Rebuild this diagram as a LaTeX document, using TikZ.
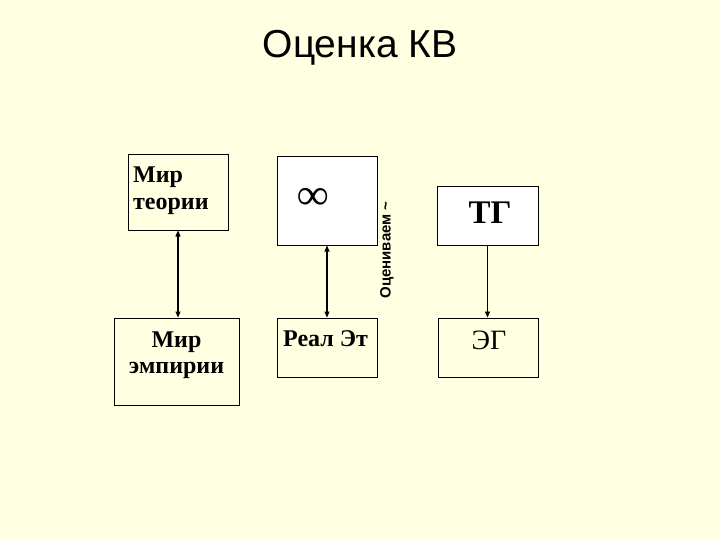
\documentclass[tikz,border=0pt]{standalone}
\usepackage{fontspec}
\setmainfont{Liberation Serif}
\setsansfont{Liberation Sans}
\usetikzlibrary{arrows.meta}
\definecolor{bg}{RGB}{255,255,225}
\tikzset{
  box/.style={draw=black, line width=0.9pt, inner sep=0pt, outer sep=0pt, anchor=north west},
  lbl/.style={inner sep=0pt, font=\fontsize{24}{26}\selectfont\bfseries},
  conn/.style={line width=1.1pt, shorten <=0.5pt, shorten >=0.5pt},
  tip/.style={-{Triangle[length=6pt,width=5pt]}},
  tips/.style={{Triangle[length=6pt,width=5pt]}-{Triangle[length=6pt,width=5pt]}}
}
\begin{document}
\begin{tikzpicture}[x=1pt,y=-1pt]
\fill[bg] (0,0) rectangle (720,540);
\useasboundingbox (0,0) rectangle (720,540);
% title
\node[inner sep=0pt, font=\sffamily\fontsize{39}{42}\selectfont] (title) at (360,48) {Оценка КВ};
% boxes
\node[box, fill=bg, minimum width=100pt, minimum height=76pt] (b1) at (128,154) {};
\node[box, fill=white, minimum width=100pt, minimum height=89pt] (b2) at (277,156) {};
\node[box, fill=white, minimum width=101pt, minimum height=59pt] (b3) at (437,186) {};
\node[box, fill=bg, minimum width=125pt, minimum height=87pt] (b4) at (114,318) {};
\node[box, fill=bg, minimum width=100pt, minimum height=59pt] (b5) at (277,318) {};
\node[box, fill=bg, minimum width=100pt, minimum height=59pt] (b6) at (438,318) {};
% texts
\node[lbl, anchor=base west] (t1a) at (133,183) {Мир};
\node[lbl, anchor=base west] (t1b) at (133,210) {теории};
\node[lbl, anchor=base] (t4a) at (176.5,347) {Мир};
\node[lbl, anchor=base] (t4b) at (176.5,373) {эмпирии};
\node[lbl, anchor=base west] (t5) at (283,346) {Реал Эт};
\node[inner sep=0pt, anchor=base, font=\fontsize{33}{34}\selectfont\bfseries] (t3) at (490,223) {ТГ};
\node[inner sep=0pt, anchor=base, font=\fontsize{28}{30}\selectfont] (t6) at (489,349) {ЭГ};
\node[inner sep=0pt, font=\fontsize{44}{44}\selectfont\bfseries] (inf) at (313,199) {∞};
\node[inner sep=0pt, rotate=90, font=\sffamily\bfseries\fontsize{15}{17}\selectfont] (rot) at (387,250) {Оцениваем \textasciitilde};
% connectors
\draw[conn, tips] (b1.south) -- (b1.south |- b4.north);
\draw[conn, tips] (b2.south) -- (b2.south |- b5.north);
\draw[conn, tip, line width=0.8pt] (b3.south) -- (b3.south |- b6.north);
\end{tikzpicture}
\end{document}
